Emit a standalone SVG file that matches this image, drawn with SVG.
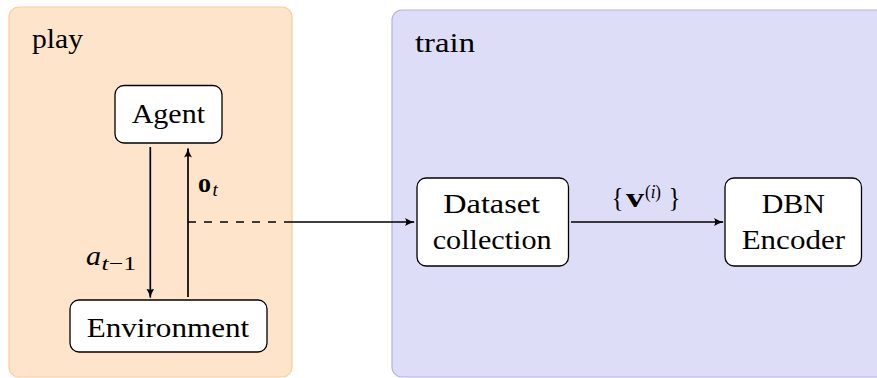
<svg xmlns="http://www.w3.org/2000/svg" width="877" height="378" viewBox="0 0 877 378">
<defs>
<marker id="arr" viewBox="0 0 10 10" refX="9" refY="5" markerWidth="10" markerHeight="10" markerUnits="userSpaceOnUse" orient="auto">
<path d="M0,1 Q5,4.2 10,5 Q5,5.8 0,9 Q2.5,5 0,1 Z" fill="#000"/>
</marker>
<style>
.t{font-family:'Liberation Serif','Times New Roman',Tinos,'DejaVu Serif',serif;font-size:28px;fill:#000}
.m{font-family:'Liberation Serif','Times New Roman',Tinos,'DejaVu Serif',serif;fill:#000}
.node{fill:#fff;stroke:#000;stroke-width:1.3}
.edge{fill:none;stroke:#000;stroke-width:1.7}
</style>
</defs>
<g id="play">
<rect x="9" y="7" width="283" height="370" rx="10" fill="#FFE4CC" stroke="#FCCB9C" stroke-width="1.2"/>
<text class="t" x="32" y="48" textLength="51" lengthAdjust="spacingAndGlyphs">play</text>
</g>
<g id="train">
<rect x="392" y="10" width="500" height="367" rx="10" fill="#DEDDF8" stroke="#B0B0EE" stroke-width="1.2"/>
<text class="t" x="415" y="52" textLength="60" lengthAdjust="spacingAndGlyphs">train</text>
</g>
<g id="edges">
<line class="edge" x1="150.3" y1="147" x2="150.3" y2="297.5" marker-end="url(#arr)"/>
<line class="edge" x1="188" y1="297" x2="188" y2="148.5" marker-end="url(#arr)"/>
<line class="edge" x1="188" y1="222" x2="292" y2="222" stroke-dasharray="8 8"/>
<line class="edge" x1="292" y1="222" x2="414" y2="222" marker-end="url(#arr)"/>
<line class="edge" x1="571" y1="222" x2="723" y2="222" marker-end="url(#arr)"/>
<text class="m" x="198" y="192" font-size="27" font-weight="bold" textLength="13" lengthAdjust="spacingAndGlyphs">o</text>
<text class="m" x="212.5" y="196" font-size="19" font-style="italic">t</text>
<text class="m" x="86" y="265" font-size="28" font-style="italic" textLength="15" lengthAdjust="spacingAndGlyphs">a</text>
<text class="m" x="101.5" y="269.5" font-size="19" textLength="34.5" lengthAdjust="spacingAndGlyphs"><tspan font-style="italic">t</tspan>−1</text>
<text class="m" x="611.5" y="207" font-size="28" textLength="12" lengthAdjust="spacingAndGlyphs">{</text>
<text class="m" x="626" y="207" font-size="28" font-weight="bold" textLength="18" lengthAdjust="spacingAndGlyphs">v</text>
<text class="m" x="645" y="198" font-size="19" textLength="16" lengthAdjust="spacingAndGlyphs">(<tspan font-style="italic">i</tspan>)</text>
<text class="m" x="668.5" y="207" font-size="28" textLength="12" lengthAdjust="spacingAndGlyphs">}</text>
</g>
<g id="agent">
<rect class="node" x="115" y="85.5" width="107" height="57.5" rx="9"/>
<text class="t" x="131.7" y="123.3" textLength="73.3" lengthAdjust="spacingAndGlyphs">Agent</text>
</g>
<g id="environment">
<rect class="node" x="70" y="300" width="197" height="52" rx="9"/>
<text class="t" x="86.7" y="336.7" textLength="162.6" lengthAdjust="spacingAndGlyphs">Environment</text>
</g>
<g id="dataset">
<rect class="node" x="417" y="178" width="151.5" height="88" rx="9"/>
<text class="t" x="443.3" y="213.3" textLength="96.7" lengthAdjust="spacingAndGlyphs">Dataset</text>
<text class="t" x="432.7" y="249.3" textLength="119" lengthAdjust="spacingAndGlyphs">collection</text>
</g>
<g id="dbn">
<rect class="node" x="725" y="178" width="136.5" height="88" rx="9"/>
<text class="t" x="761.7" y="213.3" textLength="63.3" lengthAdjust="spacingAndGlyphs">DBN</text>
<text class="t" x="741.7" y="249.3" textLength="103.3" lengthAdjust="spacingAndGlyphs">Encoder</text>
</g>
</svg>
